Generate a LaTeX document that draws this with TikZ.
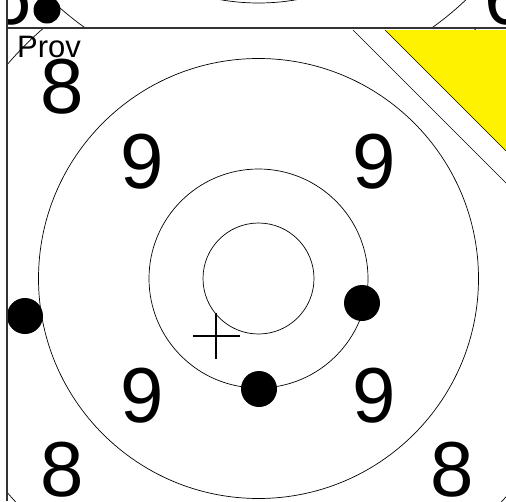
\documentclass[tikz,border=0pt]{standalone}
\usepackage{fontspec}
\setmainfont{Liberation Sans}

\begin{document}
\begin{tikzpicture}[
  x=1pt, y=-1pt,
  ring/.style={draw, line width=0.7pt},
  border/.style={draw, line width=1.6pt, black!80},
  dot/.style={circle, fill=black, inner sep=0pt, minimum size=36pt},
  ringnum/.style={inner sep=0pt, font=\fontsize{78}{78}\selectfont},
  provtext/.style={inner sep=0pt, anchor=base west, font=\fontsize{31}{31}\selectfont}
]
\useasboundingbox (0,0) rectangle (506,501);

% UPPER TARGET
\begin{scope}
  \clip (7,0) rectangle (506,28);
  \coordinate (upper) at (258.5,-217);
  \draw[ring] (upper) circle[radius=220];
  \draw[ring] (upper) circle[radius=300];
  \node[ringnum] (six-l) at (10.5,-2.5) {6};
  \node[ringnum] (six-r) at (506.5,-2.5) {6};
  \node[dot, minimum size=27pt] (hit-u) at (47,10) {};
\end{scope}

% TARGET
\begin{scope}
  \clip (7,28) rectangle (506,501);
  \coordinate (centre) at (258.5,278.5);
  \draw[ring] (centre) circle[radius=55.5];
  \draw[ring] (centre) circle[radius=109.5];
  \draw[ring] (centre) circle[radius=220];
  \draw[ring] (centre) circle[radius=330];

  % RING NUMBERS
  \node[ringnum] (nine-tl) at (142.5,161.5) {9};
  \node[ringnum] (nine-tr) at (374.5,161.5) {9};
  \node[ringnum] (nine-bl) at (142.5,395.5) {9};
  \node[ringnum] (nine-br) at (374.5,395.5) {9};
  \node[ringnum] (eight-tl) at (62.5,87) {8};
  \node[ringnum] (eight-bl) at (62.5,470) {8};
  \node[ringnum] (eight-br) at (452.5,470) {8};

  % PROV CORNER
  \node[provtext] (prov) at (17,57) {Prov};
  \fill[white] (353,30) -- (530,207) -- (530,30) -- cycle;
  \fill[yellow] (385,30) -- (530,175) -- (530,30) -- cycle;
  \draw[ring] (385,30) -- (530,175);
  \draw[ring] (353,30) -- (530,207);

  % HITS
  \node[dot] (hit-1) at (25,316) {};
  \node[dot] (hit-2) at (362,303) {};
  \node[dot] (hit-3) at (259,389) {};
  \coordinate (cross) at (216,336);
  \draw[line width=1.2pt] (cross) ++(0,-23) -- ++(0,46)
    (cross) ++(-23,0) -- ++(47,0);
\end{scope}

% FRAME
\draw[border] (7,0) -- (7,501);
\draw[border] (7,28) -- (506,28);

\end{tikzpicture}
\end{document}
